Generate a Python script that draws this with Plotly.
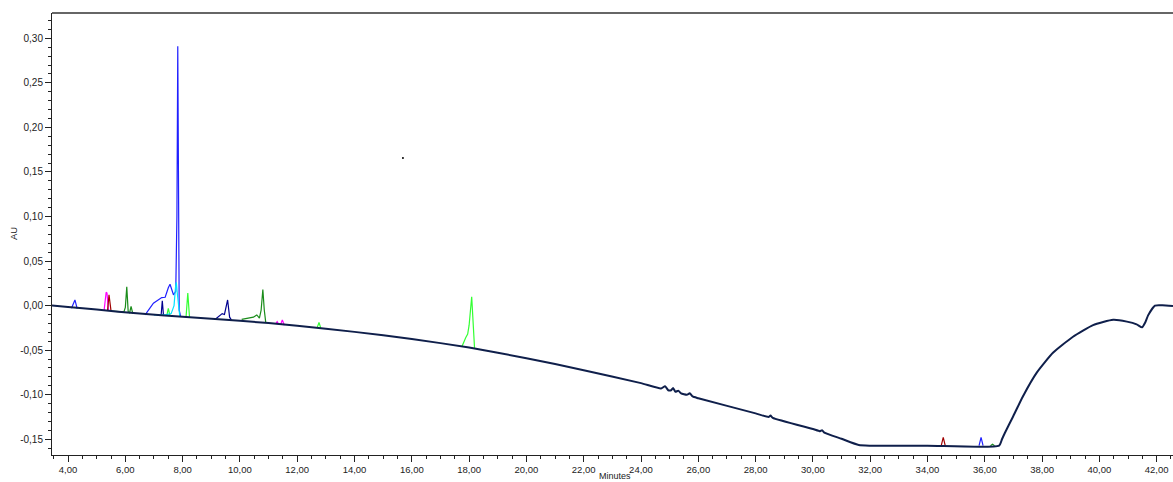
import plotly.graph_objects as go

# ---- data (minutes, AU) ----
base_t = [3.44, 4.0, 5.0, 6.5, 8.0, 10.0, 12.0, 14.0, 16.0, 18.0, 20.0, 22.0, 24.0,
          24.7, 24.84, 24.95, 25.05, 25.12, 25.2, 25.3, 25.4, 25.6, 25.7, 25.8, 26.0,
          28.0, 28.45, 28.52, 28.6, 30.0, 30.25, 30.32, 30.4, 31.0, 31.6, 32.0, 34.0,
          36.5, 36.6, 36.7, 36.98, 37.33, 37.82, 38.38, 39.08, 39.78, 40.48, 40.96,
          41.3, 41.49, 41.6, 41.7, 41.94, 42.2, 42.57]
base_v = [0.000, -0.0015, -0.0045, -0.0090, -0.0125, -0.0170, -0.0225, -0.0295, -0.0375,
          -0.0470, -0.0590, -0.0725, -0.0870,
          -0.0930, -0.0905, -0.0950, -0.0950, -0.0925, -0.0968, -0.0955, -0.0985, -0.1000,
          -0.0985, -0.1020, -0.1040,
          -0.1210, -0.1250, -0.1235, -0.1260, -0.1385, -0.1410, -0.1398, -0.1425, -0.1495,
          -0.1565, -0.1572, -0.1572,
          -0.1572, -0.1500, -0.1430, -0.1250, -0.1020, -0.0750, -0.0530, -0.0350, -0.0220,
          -0.0160, -0.0180, -0.0210, -0.0244, -0.0190, -0.0110, 0.0000, 0.0003, -0.0005]

blue_t = [4.12, 4.24, 4.32, None,
          6.69, 6.98, 7.27, 7.39, 7.50, 7.56, 7.62, 7.68, 7.76, 7.80, 7.83, 7.86, 7.88, 7.93, None,
          35.80, 35.87, 35.94]
blue_v = [-0.0030, 0.0063, -0.0035, None,
          -0.0105, 0.0026, 0.0090, 0.0093, 0.0200, 0.0240, 0.0180, 0.0120, 0.0160, 0.1000,
          0.2910, 0.1000, -0.0050, -0.0120, None,
          -0.1572, -0.1480, -0.1572]

cyan_t = [7.00, 7.40, 7.60, 7.70, 7.75, 7.78, 7.81, 7.85, 7.90]
cyan_v = [-0.0105, -0.0105, -0.0090, 0.0000, 0.0200, 0.0260, 0.0150, 0.0000, -0.0120]

magenta_t = [5.26, 5.33, 5.36, 5.41, None, 11.25, 11.30, 11.35, None, 11.42, 11.48, 11.55]
magenta_v = [-0.0050, 0.0150, 0.0140, -0.0055, None, -0.0205, -0.0180, -0.0210, None,
             -0.0215, -0.0160, -0.0220]

darkred_t = [5.38, 5.43, 5.50, None, 34.48, 34.55, 34.62]
darkred_v = [-0.0055, 0.0120, -0.0060, None, -0.1572, -0.1480, -0.1572]

green_t = [5.50, 5.95, 6.00, 6.05, 6.10, 6.15, 6.20, 6.26, None,
           10.06, 10.47, 10.59, 10.68, 10.74, 10.80, 10.85, 10.90, None,
           36.20, 36.27, 36.34]
green_v = [-0.0062, -0.0070, -0.0020, 0.0210, -0.0070, -0.0080, -0.0010, -0.0090, None,
           -0.0155, -0.0130, -0.0105, -0.0140, -0.0050, 0.0180, -0.0050, -0.0185, None,
           -0.1572, -0.1555, -0.1572]

lime_t = [7.45, 7.50, 7.56, None, 8.12, 8.18, 8.24, None, 12.70, 12.76, 12.82, None,
          17.75, 17.82, 17.88, 17.95, 18.00, 18.09, 18.14, 18.19]
lime_v = [-0.0110, -0.0030, -0.0115, None, -0.0125, 0.0140, -0.0130, None,
          -0.0245, -0.0190, -0.0250, None,
          -0.0460, -0.0400, -0.0360, -0.0320, -0.0220, 0.0100, -0.0200, -0.0480]

navy_t = [7.25, 7.29, 7.33, None, 9.15, 9.30, 9.38, 9.46, 9.57, 9.64, 9.70]
navy_v = [-0.0105, 0.0055, -0.0105, None, -0.0150, -0.0110, -0.0090, -0.0100, 0.0063,
          -0.0130, -0.0160]

dot_t = [15.69]
dot_v = [0.1657]

x_ticks = [4, 6, 8, 10, 12, 14, 16, 18, 20, 22, 24, 26, 28, 30, 32, 34, 36, 38, 40, 42]
x_labels = ["4,00", "6,00", "8,00", "10,00", "12,00", "14,00", "16,00", "18,00", "20,00",
            "22,00", "24,00", "26,00", "28,00", "30,00", "32,00", "34,00", "36,00", "38,00",
            "40,00", "42,00"]
y_ticks = [-0.15, -0.10, -0.05, 0.0, 0.05, 0.10, 0.15, 0.20, 0.25, 0.30]
y_labels = ["-0,15", "-0,10", "-0,05", "0,00", "0,05", "0,10", "0,15", "0,20", "0,25", "0,30"]

fig = go.Figure()

def add(t, v, color, width=1.2):
    fig.add_trace(go.Scatter(x=t, y=v, mode="lines", line=dict(color=color, width=width),
                             connectgaps=False, hoverinfo="skip"))

add(green_t, green_v, "#1a8c1a")
add(lime_t, lime_v, "#33ff33")
add(magenta_t, magenta_v, "#ff00ff")
add(darkred_t, darkred_v, "#a00000")
add(navy_t, navy_v, "#000090")
add(blue_t, blue_v, "#2020ff")
add(cyan_t, cyan_v, "#00e5ff")
fig.add_trace(go.Scatter(x=base_t, y=base_v, mode="lines",
                         line=dict(color="#0f1f4b", width=2.0, shape="spline", smoothing=0.5),
                         hoverinfo="skip"))
fig.add_trace(go.Scatter(x=dot_t, y=dot_v, mode="markers",
                         marker=dict(color="black", size=2), hoverinfo="skip"))

tickfont = dict(family="Liberation Sans, Arial, sans-serif", size=9.5, color="#222")

fig.update_layout(
    width=1173, height=482,
    margin=dict(l=52, r=0, t=13, b=27),
    paper_bgcolor="white", plot_bgcolor="white",
    showlegend=False,
    xaxis=dict(range=[3.44, 42.57], tickmode="array", tickvals=x_ticks, ticktext=x_labels,
               ticks="outside", ticklen=6, tickcolor="#222", showline=True, linecolor="#222",
               linewidth=1, showgrid=False, zeroline=False, tickfont=tickfont,
               minor=dict(tickmode="linear", tick0=0, dtick=0.5, ticks="outside", ticklen=3,
                          tickcolor="#222", showgrid=False)),
    yaxis=dict(range=[-0.1677, 0.3284], tickmode="array", tickvals=y_ticks, ticktext=y_labels,
               ticks="outside", ticklen=6, tickcolor="#222", showline=True, linecolor="#222",
               linewidth=1, showgrid=False, zeroline=False, tickfont=dict(tickfont, size=10),
               minor=dict(tickmode="linear", tick0=0, dtick=0.01, ticks="outside", ticklen=3,
                          tickcolor="#222", showgrid=False)),
    shapes=[dict(type="line", xref="paper", yref="paper", x0=0, x1=1, y0=1, y1=1,
                 line=dict(color="#666", width=2))],
    annotations=[
        dict(text="AU", xref="paper", yref="paper", x=-0.0348, y=0.502, showarrow=False,
             textangle=-90, font=dict(family="Liberation Sans, Arial, sans-serif", size=9.5,
                                      color="#222"), xanchor="center", yanchor="middle"),
        dict(text="Minutes", xref="paper", yref="paper", x=0.502, y=-0.0475, showarrow=False,
             font=dict(family="Liberation Sans, Arial, sans-serif", size=9, color="#222"),
             xanchor="center", yanchor="middle"),
    ],
)

fig.write_html("out.html")
